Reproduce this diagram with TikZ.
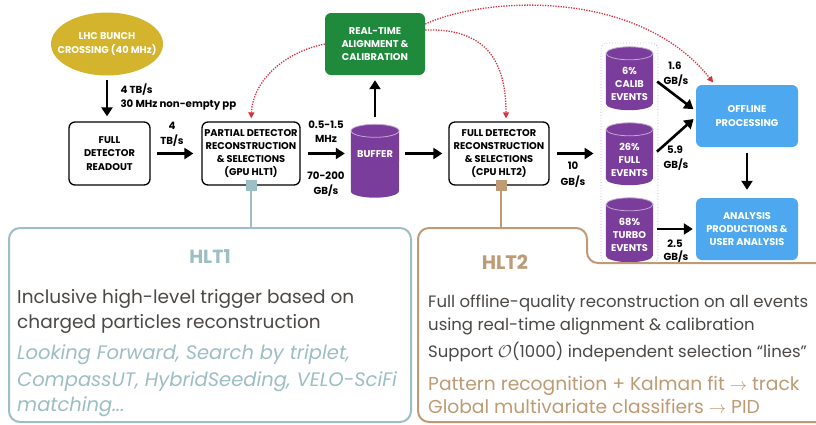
\documentclass[tikz,border=0pt]{standalone}
\usepackage{fontspec}
\setmainfont{Poppins}
\usetikzlibrary{arrows.meta,shapes.geometric,backgrounds,calc}
\definecolor{lhcyel}{HTML}{D4B42C}
\definecolor{rtagreen}{HTML}{1F8A3B}
\definecolor{cylpurp}{HTML}{7A3D9C}
\definecolor{offblue}{HTML}{4DA8EF}
\definecolor{hltone}{HTML}{9DBEC4}
\definecolor{hlttwo}{HTML}{BE9B74}
\definecolor{bodygray}{HTML}{4B4845}
\definecolor{reddot}{HTML}{D8323F}
\definecolor{grplav}{HTML}{C6A8DA}
\newcommand{\drawcyl}[3]{%
  \fill[cylpurp] ([yshift=-#3]#1.north west) -- ([yshift=#3]#1.south west)
    arc[start angle=180,end angle=360,x radius=#2,y radius=#3]
    -- ([yshift=-#3]#1.north east)
    arc[start angle=0,end angle=180,x radius=#2,y radius=#3] -- cycle;
  \draw[white!55!cylpurp, line width=0.8pt] ([yshift=-#3]#1.north) ellipse[x radius=#2, y radius=#3];
}
\begin{document}
\begin{tikzpicture}[x=1pt,y=1pt,
  lbl/.style={font=\bfseries\fontsize{9.8}{13.3}\selectfont, align=center},
  stagebox/.style={lbl, draw=black, line width=1.3pt, rounded corners=6pt, minimum width=99pt, minimum height=63pt, inner sep=0pt},
  fillbox/.style={lbl, text=white, rounded corners=6pt, minimum height=62pt, inner sep=0pt},
  cylnode/.style={minimum width=47pt, inner sep=0pt},
  cyltext/.style={lbl, text=white},
  flow/.style={line width=2.6pt, -{Triangle[length=9pt,width=11pt]}},
  reddots/.style={reddot, line width=1.3pt, dash pattern=on 1.3pt off 1.3pt, -{Triangle[length=6pt,width=6pt]}},
  rate/.style={lbl, font=\bfseries\fontsize{10.2}{13.3}\selectfont, anchor=center},
  bodytxt/.style={anchor=base west, text=bodygray, inner sep=0pt},
]
\useasboundingbox (0,0) rectangle (816,-424);

% top row nodes
\node[ellipse, fill=lhcyel, minimum width=112pt, minimum height=63pt, inner sep=0pt] (lhc) at (107,-44) {};
\node[lbl, text=white, inner sep=0pt] (lhctxt) at (lhc.center) {LHC BUNCH\\CROSSING (40 MHz)};
\node[stagebox, minimum width=81pt] (fdr) at (109.5,-153.5) {FULL\\DETECTOR\\READOUT};
\node[stagebox, minimum width=98pt] (pdr) at (251,-153.5) {PARTIAL DETECTOR\\RECONSTRUCTION\\\& SELECTIONS\\(GPU HLT1)};
\node[cylnode, minimum width=48pt, minimum height=73pt] (buf) at (375,-161) {};
\node[fill=rtagreen, fillbox, minimum width=100pt] (rta) at (375,-44) {REAL-TIME\\ALIGNMENT \&\\CALIBRATION};
\node[stagebox, minimum width=100pt] (fdc) at (499,-153.5) {FULL DETECTOR\\RECONSTRUCTION\\\& SELECTIONS\\(CPU HLT2)};

% event group
\node[draw=grplav, line width=0.8pt, dotted, rounded corners=6pt, minimum width=57pt, minimum height=220pt, inner sep=0pt] (grp) at (629.5,-153) {};
\node[cylnode, minimum height=63pt] (cal) at (629.5,-78.5) {};
\node[cylnode, minimum height=62pt] (ful) at (629.5,-154) {};
\node[cylnode, minimum height=64pt] (tur) at (629.5,-230) {};

\node[fill=offblue, fillbox, minimum width=102pt] (off) at (747,-116) {OFFLINE\\PROCESSING};
\node[fill=offblue, fillbox, minimum width=102pt] (ana) at (747,-229) {ANALYSIS\\PRODUCTIONS \&\\USER ANALYSIS};

\begin{scope}[on background layer]
  \fill[white] (0,0) rectangle (816,-424);
  \drawcyl{buf}{24pt}{6.5pt}
  \drawcyl{cal}{23.5pt}{6.5pt}
  \drawcyl{ful}{23.5pt}{6.5pt}
  \drawcyl{tur}{23.5pt}{6.5pt}
\end{scope}

\node[cyltext] (buftxt) at (375,-154) {BUFFER};
\node[cyltext] (caltxt) at ([yshift=-5.5pt]cal.center) {6\%\\CALIB\\EVENTS};
\node[cyltext] (fultxt) at ([yshift=-6pt]ful.center) {26\%\\FULL\\EVENTS};
\node[cyltext] (turtxt) at ([yshift=-5pt]tur.center) {68\%\\TURBO\\EVENTS};

% flow arrows
\draw[flow, shorten <=4pt, shorten >=5pt] (lhc.south) -- (lhc.south |- fdr.north);
\draw[flow, shorten <=6pt, shorten >=8pt] (fdr.east) -- (pdr.west);
\draw[flow, shorten <=7pt, shorten >=6pt] (pdr.east) -- (pdr.east -| buf.west);
\draw[flow, shorten <=7pt, shorten >=5pt] (buf.north) -- (rta.south);
\draw[flow, shorten <=6pt, shorten >=6pt] (pdr.east -| buf.east) -- (fdc.west);
\draw[flow, shorten <=7pt, shorten >=7pt] (fdc.east) -- (fdc.east -| grp.west);
\draw[flow, shorten <=5pt, shorten >=3pt] ([yshift=0pt]cal.east) -- ([yshift=5pt]off.west);
\draw[flow, shorten <=5pt, shorten >=3pt] ([yshift=-1pt]ful.east) -- ([yshift=-1pt]off.west);
\draw[flow, shorten <=4pt, shorten >=3pt] (tur.east |- ana.west) -- (ana.west);
\draw[flow, shorten <=6pt, shorten >=8pt] (off.south) -- (ana.north);

% red dotted feedback
\draw[reddots, shorten >=3pt] (rta.west) .. controls (285,-52) and (253,-80) .. (pdr.north);
\draw[reddots, shorten >=3pt] ([yshift=14pt]rta.east) .. controls (485,-28) and (506,-60) .. ([xshift=7pt]fdc.north);
\draw[reddots, shorten >=3pt] ([yshift=20pt]rta.east) .. controls (490,5) and (640,10) .. ([xshift=-32pt]off.north);

% rate labels
\node[rate, anchor=west, align=left] (r1) at (117,-90) {4 TB/s};
\node[rate, anchor=west, align=left] (r2) at (117,-105) {30 MHz non-empty pp};
\node[rate] (r3) at (172,-126) {4};
\node[rate] (r4) at (172,-141) {TB/s};
\node[rate] (r5) at (326,-125) {0.5-1.5};
\node[rate] (r6) at (326,-139) {MHz};
\node[rate] (r7) at (326,-176) {70-200};
\node[rate] (r8) at (326,-191) {GB/s};
\node[rate] (r9) at (573,-166) {10};
\node[rate] (r10) at (573,-182) {GB/s};
\node[rate] (r11) at (675,-66) {1.6};
\node[rate] (r12) at (676,-81) {GB/s};
\node[rate] (r13) at (675,-150) {5.9};
\node[rate] (r14) at (676,-165) {GB/s};
\node[rate] (r15) at (675,-244) {2.5};
\node[rate] (r16) at (676,-257) {GB/s};

% HLT1 panel
\node[draw=hltone, line width=2pt, rounded corners=11pt, minimum width=402pt, minimum height=194pt, inner sep=0pt] (h1box) at (210,-325) {};
\node[fill=hltone, minimum size=11pt, inner sep=0pt] (sq1) at (251,-185.5) {};
\draw[hltone, line width=2pt] (sq1.south) -- (sq1 |- h1box.north);
\node[text=hltone, font=\bfseries\fontsize{19}{21}\selectfont] (h1t) at (210,-257) {HLT1};
\node[bodytxt, font=\fontsize{18.5}{21}\selectfont] (h1a) at (17,-303) {Inclusive high-level trigger based on};
\node[bodytxt, font=\fontsize{18.5}{21}\selectfont] (h1b) at (17,-328) {charged particles reconstruction};
\node[bodytxt, text=hltone, font=\itshape\fontsize{19.5}{21}\selectfont] (h1c) at (17,-359) {Looking Forward, Search by triplet,};
\node[bodytxt, text=hltone, font=\itshape\fontsize{19.5}{21}\selectfont] (h1d) at (17,-386) {CompassUT, HybridSeeding, VELO-SciFi};
\node[bodytxt, text=hltone, font=\itshape\fontsize{19.5}{21}\selectfont] (h1e) at (17,-411) {matching...};

% HLT2 panel
\draw[hlttwo, line width=2pt, rounded corners=11pt] (418,-422) -- (418,-228) -- (587,-228) -- (587,-263) -- (830,-263) -- (830,-422) -- cycle;
\coordinate (h2top) at (501,-228);
\node[fill=hlttwo, minimum size=11pt, inner sep=0pt] (sq2) at (501,-185.5) {};
\draw[hlttwo, line width=2pt] (sq2.south) -- (h2top);
\node[text=hlttwo, font=\bfseries\fontsize{19.5}{21}\selectfont] (h2t) at (505,-262) {HLT2};
\node[bodytxt, font=\fontsize{16.5}{19}\selectfont] (h2a) at (428,-307) {Full offline-quality reconstruction on all events};
\node[bodytxt, font=\fontsize{16.5}{19}\selectfont] (h2b) at (428,-330) {using real-time alignment \& calibration};
\node[bodytxt, font=\fontsize{16.5}{19}\selectfont] (h2c) at (428,-357) {Support $\mathcal{O}$(1000) independent selection “lines”};
\node[bodytxt, text=hlttwo, font=\fontsize{18.7}{21}\selectfont] (h2d) at (428,-390) {Pattern recognition + Kalman fit $\rightarrow$ track};
\node[bodytxt, text=hlttwo, font=\fontsize{18.7}{21}\selectfont] (h2e) at (428,-413) {Global multivariate classifiers $\rightarrow$ PID};
\end{tikzpicture}
\end{document}
